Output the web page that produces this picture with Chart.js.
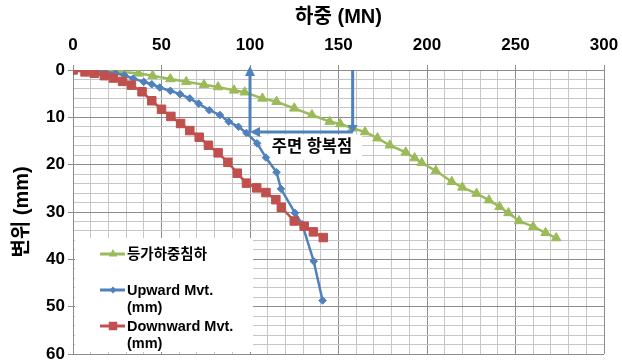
<!DOCTYPE html>
<html>
<head>
<meta charset="utf-8">
<script src="https://cdn.jsdelivr.net/npm/chart.js@4.4.1/dist/chart.umd.min.js"></script>
<style>
  html, body { margin: 0; padding: 0; background: #fff; }
  #wrap { width: 622px; height: 362px; }
</style>
</head>
<body>
<div id="wrap"><canvas id="chart" width="622" height="362"></canvas></div>
<script>
// Load (MN) vs. displacement (mm) for the bi-directional pile load test
const equivLoad = [0, 8, 17, 27, 37, 45, 55, 64, 74, 82, 91, 97, 107, 115, 125, 135, 145, 151, 158, 165, 172, 179, 188, 193, 197, 205, 214, 220, 228, 235, 241, 246, 252, 260, 267, 273];
const equivDisp = [0, 0.1, 0.2, 0.4, 0.7, 1.2, 1.9, 2.5, 3.1, 3.6, 4.3, 4.7, 6.0, 6.7, 8.1, 9.5, 10.9, 11.4, 12.3, 13.1, 14.4, 15.9, 17.4, 18.6, 19.6, 21.3, 23.6, 24.8, 26.1, 27.5, 28.9, 30.2, 31.9, 33.1, 34.4, 35.5];

const upLoad = [0, 6, 12, 18, 24, 29, 34, 40, 44.5, 49, 55, 60.5, 66, 71, 77, 83, 88, 93.5, 98, 104, 109, 115, 117.5, 125.4, 129.5, 136, 141];
const upDisp = [0, 0, 0.1, 0.4, 0.7, 1.1, 1.8, 2.5, 3.0, 3.7, 4.4, 5.1, 6.0, 7.1, 8.5, 9.5, 10.9, 12.0, 13.3, 15.5, 18.5, 21.6, 25.1, 30.2, 32.6, 40.4, 48.7];

const downLoad = [0, 6.8, 12, 17.7, 22.8, 28, 33, 39, 44.5, 50, 55.3, 60.8, 66, 71.3, 76.5, 82, 87.5, 92.8, 98, 103.8, 109, 114.6, 117.7, 125, 130.6, 135.8, 141.4];
const downDisp = [0, 0.4, 0.7, 1.2, 1.7, 2.4, 3.2, 4.6, 6.5, 8.3, 9.8, 11.3, 12.8, 14.2, 15.9, 17.5, 19.5, 21.8, 23.9, 24.9, 25.9, 27.4, 29.0, 31.9, 33.0, 34.2, 35.4];

const seriesNames = ['등가하중침하', ['Upward Mvt.', '(mm)'], ['Downward Mvt.', '(mm)']];

// Skin-friction yield point callout
const yieldLoad = 100;      // MN, read on the upward curve
const equivYieldLoad = 158; // MN, read on the equivalent curve
const yieldDisp = 13.1;     // mm
const calloutText = '주면 항복점';

// Axis ranges and tick steps
const loadTicks = { min: 0, max: 300, minor: 10, major: 50 };
const dispTicks = { min: 0, max: 60, minor: 2, major: 10 };
const xTitle = '하중 (MN)';
const yTitle = '변위 (mm)';

const FONT = "'Liberation Sans', 'Noto Sans CJK KR', Arial, sans-serif";
const GREEN = '#9BBB59', BLUE = '#4F81BD', RED = '#C0504D';
const GRID_MAJOR = '#8c8c8c', GRID_MINOR = '#c6c6c6';

const pts = (xs, ys) => xs.map((v, i) => ({ x: v, y: ys[i] }));
const isMajor = (v, step) => Math.abs(v / step - Math.round(v / step)) < 1e-6;

function marker(ctx, style, x, y, r, color) {
  ctx.save();
  ctx.fillStyle = color;
  ctx.beginPath();
  if (style === 'triangle') {
    ctx.moveTo(x, y - r);
    ctx.lineTo(x + 0.866 * r, y + 0.5 * r);
    ctx.lineTo(x - 0.866 * r, y + 0.5 * r);
  } else if (style === 'rectRot') {
    ctx.moveTo(x - r, y); ctx.lineTo(x, y - r); ctx.lineTo(x + r, y); ctx.lineTo(x, y + r);
  } else {
    const s = r * Math.SQRT1_2;
    ctx.rect(x - s, y - s, 2 * s, 2 * s);
  }
  ctx.closePath();
  ctx.fill();
  ctx.restore();
}

function arrowHead(ctx, tipX, tipY, dir, len, half) {
  ctx.beginPath();
  if (dir === 'up') { ctx.moveTo(tipX, tipY); ctx.lineTo(tipX - half, tipY + len); ctx.lineTo(tipX + half, tipY + len); }
  if (dir === 'down') { ctx.moveTo(tipX, tipY); ctx.lineTo(tipX - half, tipY - len); ctx.lineTo(tipX + half, tipY - len); }
  if (dir === 'left') { ctx.moveTo(tipX, tipY); ctx.lineTo(tipX + len, tipY - half); ctx.lineTo(tipX + len, tipY + half); }
  ctx.closePath();
  ctx.fill();
}

const legendItems = [
  { text: [seriesNames[0]], color: GREEN, style: 'triangle', r: 5 },
  { text: seriesNames[1], color: BLUE, style: 'rectRot', r: 3.5 },
  { text: seriesNames[2], color: RED, style: 'rect', r: 6 }
];

const overlays = {
  id: 'overlays',
  beforeDatasetsDraw(chart) {
    const { ctx, chartArea: a, scales: { x, y } } = chart;
    ctx.save();
    ctx.fillStyle = '#fff';
    // legend panel inside the plot
    ctx.fillRect(a.left + 2, a.top + 168, 178, 114);
    // callout label panel
    const cx = x.getPixelForValue(135), cy = y.getPixelForValue(16.2);
    ctx.fillRect(cx - 50, cy - 12, 100, 25);
    ctx.restore();
  },
  afterDatasetsDraw(chart) {
    const { ctx, chartArea: a, scales: { x, y } } = chart;
    ctx.save();
    // yield-point arrows
    const xl = x.getPixelForValue(yieldLoad);
    const xr = x.getPixelForValue(equivYieldLoad);
    const yy = y.getPixelForValue(yieldDisp);
    const yTop = y.getPixelForValue(0);
    ctx.strokeStyle = BLUE; ctx.fillStyle = BLUE; ctx.lineWidth = 3;
    ctx.beginPath();
    ctx.moveTo(xr, yTop); ctx.lineTo(xr, yy - 4);
    ctx.moveTo(xr, yy); ctx.lineTo(xl + 8, yy);
    ctx.moveTo(xl, yy); ctx.lineTo(xl, yTop - 1);
    ctx.stroke();
    arrowHead(ctx, xl, yTop - 4, 'up', 10, 5);
    arrowHead(ctx, xl, yy, 'left', 10, 5);
    arrowHead(ctx, xr, yy + 1, 'down', 8, 5);

    // callout text
    ctx.fillStyle = '#000';
    ctx.font = `bold 16.5px ${FONT}`;
    ctx.textAlign = 'center'; ctx.textBaseline = 'middle';
    ctx.fillText(calloutText, x.getPixelForValue(135), y.getPixelForValue(16.2) + 1);

    // legend entries
    ctx.font = `bold 14.5px ${FONT}`;
    ctx.textAlign = 'left';
    const rows = [a.top + 184, a.top + 220, a.top + 256];
    legendItems.forEach((it, i) => {
      const ly = rows[i];
      ctx.strokeStyle = it.color; ctx.lineWidth = 3;
      ctx.beginPath(); ctx.moveTo(a.left + 27, ly); ctx.lineTo(a.left + 52, ly); ctx.stroke();
      marker(ctx, it.style, a.left + 40, ly, it.r, it.color);
      ctx.fillStyle = '#000';
      it.text.forEach((t, k) => ctx.fillText(t, a.left + 54, ly + 1 + k * 17));
    });
    ctx.restore();
  }
};

new Chart(document.getElementById('chart'), {
  type: 'line',
  data: {
    datasets: [
      { label: seriesNames[0], data: pts(equivLoad, equivDisp), borderColor: GREEN, backgroundColor: GREEN,
        pointStyle: 'triangle', pointRadius: 5.5, pointBorderWidth: 1, borderWidth: 2.5, order: 3 },
      { label: seriesNames[1].join(' '), data: pts(upLoad, upDisp), borderColor: BLUE, backgroundColor: BLUE,
        pointStyle: 'rectRot', pointRadius: 3.8, pointBorderWidth: 1, borderWidth: 2.5, order: 2 },
      { label: seriesNames[2].join(' '), data: pts(downLoad, downDisp), borderColor: RED, backgroundColor: RED,
        pointStyle: 'rect', pointRadius: 6, pointBorderWidth: 1, borderWidth: 2.5, order: 1 }
    ]
  },
  options: {
    responsive: false,
    animation: false,
    events: [],
    layout: { padding: { top: 0, left: 0, right: 18, bottom: 8 } },
    elements: { line: { tension: 0 } },
    plugins: { legend: { display: false }, tooltip: { enabled: false } },
    scales: {
      x: {
        type: 'linear', position: 'top',
        min: loadTicks.min, max: loadTicks.max,
        ticks: {
          stepSize: loadTicks.minor, autoSkip: false, maxRotation: 0, padding: 9,
          color: '#000', font: { family: FONT, size: 17, weight: 'bold' },
          callback: v => isMajor(v, loadTicks.major) ? String(v) : ''
        },
        grid: {
          color: c => isMajor(c.tick.value, loadTicks.major) ? GRID_MAJOR : GRID_MINOR,
          tickColor: c => isMajor(c.tick.value, loadTicks.major) ? GRID_MAJOR : 'rgba(0,0,0,0)',
          tickLength: 5
        },
        border: { color: GRID_MAJOR },
        title: { display: true, text: xTitle, color: '#000', font: { family: FONT, size: 20, weight: 'bold' }, padding: { top: 5, bottom: 0 } },
        afterFit: s => { s.height = 70; s.paddingLeft = 0; s.paddingRight = 0; }
      },
      y: {
        type: 'linear', position: 'left', reverse: true,
        min: dispTicks.min, max: dispTicks.max,
        ticks: {
          stepSize: dispTicks.minor, autoSkip: false, padding: 3,
          color: '#000', font: { family: FONT, size: 17, weight: 'bold' },
          callback: v => isMajor(v, dispTicks.major) ? String(v) : ''
        },
        grid: {
          color: c => isMajor(c.tick.value, dispTicks.major) ? GRID_MAJOR : GRID_MINOR,
          tickColor: c => isMajor(c.tick.value, dispTicks.major) ? GRID_MAJOR : 'rgba(0,0,0,0)',
          tickLength: 5
        },
        border: { color: GRID_MAJOR },
        title: { display: true, text: yTitle, color: '#000', font: { family: FONT, size: 20, weight: 'bold' }, padding: { top: 10, bottom: 0 } },
        afterFit: s => { s.width = 73; s.paddingTop = 0; s.paddingBottom = 0; }
      }
    }
  },
  plugins: [overlays]
});
</script>
</body>
</html>
